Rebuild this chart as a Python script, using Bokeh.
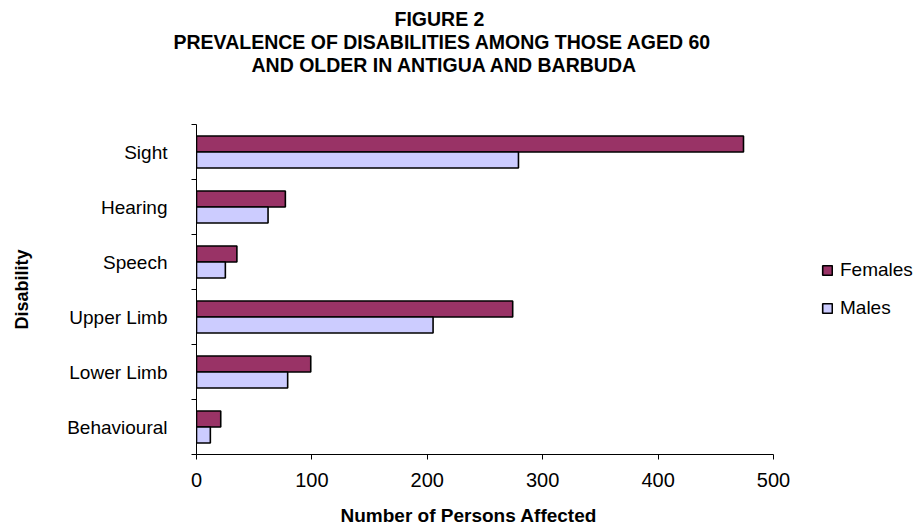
from bokeh.plotting import figure
from bokeh.models import (Range1d, FixedTicker, Legend, LegendItem, Title,
                          ColumnDataSource)
from bokeh.transform import dodge
from bokeh.embed import file_html
from bokeh.resources import INLINE

# ---- data ----
categories = ["Sight", "Hearing", "Speech", "Upper Limb", "Lower Limb", "Behavioural"]
females = [474, 77, 35, 274, 99, 21]
males = [279, 62, 25, 205, 79, 12]
series_names = ["Females", "Males"]
x_ticks = [0, 100, 200, 300, 400, 500]
title_lines = ["FIGURE 2",
               "PREVALENCE OF DISABILITIES AMONG THOSE AGED 60",
               "AND OLDER IN ANTIGUA AND BARBUDA"]
x_title = "Number of Persons Affected"
y_title = "Disability"

FONT = "Liberation Sans"
F_COLOR = "#993366"
M_COLOR = "#CCCCFF"

# layout (pixels)
W, H = 919, 531
LEFT, AXIS_RIGHT, TOP, BOTTOM = 196, 773, 124, 77

n = len(categories)
ypos = [n - 0.5 - i for i in range(n)]
src = ColumnDataSource(dict(cat=categories, y=ypos, f=females, m=males))

# the frame runs to the right edge so the legend can sit inside it;
# the x axis itself is bounded to 0..500
x_end = x_ticks[-1] * (W - LEFT) / (AXIS_RIGHT - LEFT)

p = figure(width=W, height=H, output_backend="svg", toolbar_location=None,
           x_range=Range1d(0, x_end), y_range=Range1d(0, n),
           min_border_left=LEFT, min_border_right=0,
           min_border_top=TOP, min_border_bottom=BOTTOM)

rf = p.hbar(y=dodge('y', 0.145, range=p.y_range), right='f', left=0, height=0.29,
            source=src, fill_color=F_COLOR, line_color="black", line_width=1.6)
rm = p.hbar(y=dodge('y', -0.145, range=p.y_range), right='m', left=0, height=0.29,
            source=src, fill_color=M_COLOR, line_color="black", line_width=1.6)

# x axis
xa = p.xaxis[0]
xa.bounds = (x_ticks[0], x_ticks[-1])
xa.ticker = FixedTicker(ticks=x_ticks)
xa.major_label_text_font = FONT
xa.major_label_text_font_size = "20px"
xa.major_label_text_color = "black"
xa.major_tick_out = 5
xa.major_tick_in = 0
xa.minor_tick_out = 0
xa.minor_tick_in = 0
xa.major_label_standoff = 13
xa.axis_line_color = "black"
xa.major_tick_line_color = "black"

# y axis
ya = p.yaxis[0]
ya.ticker = FixedTicker(ticks=ypos, minor_ticks=list(range(n + 1)))
ya.major_label_overrides = {y: c for y, c in zip(ypos, categories)}
ya.major_label_text_font = FONT
ya.major_label_text_font_size = "19px"
ya.major_label_text_color = "black"
ya.major_tick_out = 0
ya.major_tick_in = 0
ya.minor_tick_out = 5
ya.minor_tick_in = 0
ya.minor_tick_line_color = "black"
ya.major_label_standoff = 24
ya.axis_line_color = "black"
ya.axis_label = y_title
ya.axis_label_text_font = FONT
ya.axis_label_text_font_size = "18px"
ya.axis_label_text_font_style = "bold"
ya.axis_label_text_color = "black"
ya.axis_label_standoff = 32

p.grid.visible = False
p.outline_line_color = None
p.background_fill_color = "white"
p.border_fill_color = "white"

# top: spacer next to the plot, then the title lines outward
p.add_layout(Title(text=" ", text_font_size="1px", standoff=45.4), "above")
offsets = [55, -23, 198]
for text, off in zip(reversed(title_lines), offsets):
    p.add_layout(Title(text=text, align="left", offset=off, standoff=-1.3,
                       text_font=FONT, text_font_size="19.5px",
                       text_font_style="bold", text_color="black"), "above")

# bottom: spacer under the axis, then the x axis title
p.add_layout(Title(text=" ", text_font_size="1px", standoff=9.4), "below")
p.add_layout(Title(text=x_title, align="left", offset=144, standoff=0,
                   text_font=FONT, text_font_size="19px",
                   text_font_style="bold", text_color="black"), "below")

legend = Legend(items=[LegendItem(label=series_names[0], renderers=[rf]),
                       LegendItem(label=series_names[1], renderers=[rm])],
                location=(625, 135), orientation="vertical",
                glyph_width=12, glyph_height=12, label_standoff=7,
                spacing=16, padding=0, margin=0,
                label_text_font=FONT, label_text_font_size="19px",
                label_text_color="black",
                border_line_color=None, background_fill_alpha=0)
p.add_layout(legend)

open("out.html", "w").write(file_html(p, INLINE))
